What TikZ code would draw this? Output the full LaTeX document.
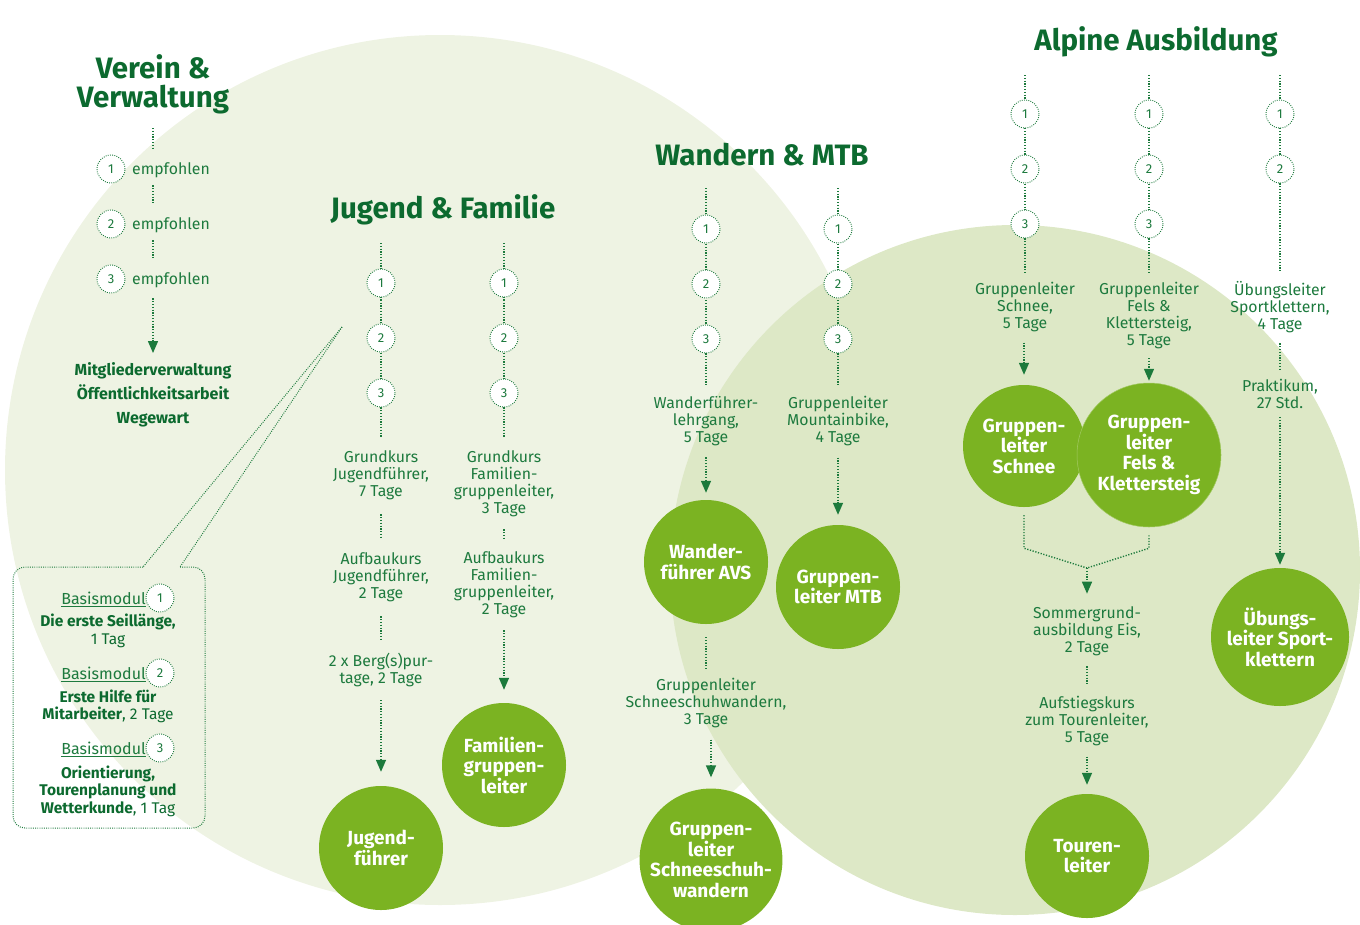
\documentclass[tikz,border=0pt]{standalone}
\usepackage{fontspec}
\setmainfont{Fira Sans}
\usetikzlibrary{arrows.meta}
\definecolor{bgA}{HTML}{EEF3E3}
\definecolor{bgB}{HTML}{DDE8C6}
\definecolor{leaf}{HTML}{7BB322}
\definecolor{txt}{HTML}{1D7A3E}
\definecolor{head}{HTML}{0C6A2F}
\definecolor{dots}{HTML}{1C7A3C}
\begin{document}
\begin{tikzpicture}[x=1pt,y=-1pt,
  lbl/.style={text=txt,align=center,inner sep=0pt,yshift=-1.5pt,font=\fontsize{15.8}{17}\selectfont},
  blbl/.style={text=head,align=center,inner sep=0pt,yshift=-1.5pt,font=\fontsize{16}{24}\selectfont\bfseries},
  bx/.style={text=head,align=center,inner sep=0pt,yshift=-1.5pt,font=\fontsize{15.5}{17.5}\selectfont},
  ttl/.style={text=head,align=center,inner sep=0pt,yshift=-2pt,font=\fontsize{29.5}{29}\selectfont\bfseries},
  num/.style={circle,draw=dots,fill=white,line width=0.9pt,dash pattern=on 0.9pt off 1.3pt,minimum size=28pt,inner sep=0pt,text=txt,font=\fontsize{13}{13}\selectfont},
  goal/.style={circle,fill=leaf,text=white,align=center,inner sep=0pt,font=\fontsize{19}{20.5}\selectfont\bfseries},
  dl/.style={draw=dots,line width=1.4pt,dash pattern=on 1.2pt off 1.6pt},
  thinl/.style={draw=dots,line width=1pt,dash pattern=on 0.9pt off 1.3pt},
  arr/.style={dl,-{Triangle[width=10pt,length=12pt]}},
  tt/.style={dl,shorten <=12pt,shorten >=12pt},
  ct/.style={dl,shorten >=12pt},
]
\useasboundingbox (0,0) rectangle (1360,924);
% backgrounds
\fill[bgA] (440,470) circle[radius=435pt];
\fill[bgB] (1015,570) circle[radius=345pt];

% ---------------- Verein & Verwaltung
\node[ttl] (vt) at (153,82.5) {Verein \&\\Verwaltung};
\coordinate (v0) at (153,128);
\node[num] (vn1) at (111,169) {1};
\node[num] (vn2) at (111,224) {2};
\node[num] (vn3) at (111,279) {3};
\node[lbl,anchor=west] (ve1) at (132,169) {empfohlen};
\node[lbl,anchor=west] (ve2) at (132,224) {empfohlen};
\node[lbl,anchor=west] (ve3) at (132,279) {empfohlen};
\node[blbl] (vm) at (153,393) {Mitgliederverwaltung\\Öffentlichkeitsarbeit\\Wegewart};
\draw[dl,shorten >=5pt] (v0) -- (v0 |- vn1.north);
\draw[dl,shorten <=2pt,shorten >=5pt] (v0 |- vn1.south) -- (v0 |- vn2.north);
\draw[dl,shorten <=2pt,shorten >=5pt] (v0 |- vn2.south) -- (v0 |- vn3.north);
\draw[arr,shorten <=5pt,shorten >=9pt] (v0 |- vn3.south) -- (vm.north);

% ---------------- Jugend & Familie
\node[ttl] (jt) at (443,208) {Jugend \& Familie};
\coordinate (j0) at (381,243);
\coordinate (f0) at (504,243);
\draw[dl] (j0) -- (381,300);
\draw[dl] (f0) -- (504,300);
\foreach \c/\x in {j/381,f/504}{
  \draw[dl] (\x,283) -- (\x,393);
}
\node[num] (jn1) at (381,283) {1};
\node[num] (jn2) at (381,338) {2};
\node[num] (jn3) at (381,393) {3};
\node[num] (fn1) at (504,283) {1};
\node[num] (fn2) at (504,338) {2};
\node[num] (fn3) at (504,393) {3};
\node[lbl] (jg) at (381,474) {Grundkurs\\Jugendführer,\\7 Tage};
\node[lbl] (ja) at (381,576) {Aufbaukurs\\Jugendführer,\\2 Tage};
\node[lbl] (jb) at (381,668.5) {2 x Berg(s)pur-\\tage, 2 Tage};
\node[goal,minimum size=124pt] (jf) at (381,848) {Jugend-\\führer};
\node[lbl] (fg) at (504,482.5) {Grundkurs\\Familien-\\gruppenleiter,\\3 Tage};
\node[lbl] (fa) at (504,583.5) {Aufbaukurs\\Familien-\\gruppenleiter,\\2 Tage};
\node[goal,minimum size=124pt] (ff) at (504,765) {Familien-\\gruppen-\\leiter};
\draw[ct,shorten >=14pt] (jn3) -- (jg);
\draw[tt,shorten <=14pt,shorten >=14pt] (jg) -- (ja);
\draw[tt,shorten <=14pt,shorten >=14pt] (ja) -- (jb);
\draw[arr,shorten <=13pt,shorten >=14pt] (jb) -- (jf);
\draw[ct,shorten >=14pt] (fn3) -- (fg);
\draw[tt] (fg) -- (fa);
\draw[arr,shorten <=12pt,shorten >=13pt] (fa) -- (ff);

% callout
\coordinate (cp) at (342,327);
\coordinate (cl) at (143,567);
\coordinate (cr) at (180,567);
\draw[thinl] (cp) -- (cl);
\draw[thinl] (cp) -- (cr);
\draw[thinl,rounded corners=12pt] (cl) -- (13,567) -- (13,828) -- (205,828) -- (205,567) -- (cr);
\node[num] (bn1) at (160,598) {1};
\node[num] (bn2) at (160,673) {2};
\node[num] (bn3) at (160,748) {3};
\node[lbl,anchor=east,font=\fontsize{16}{17}\selectfont] (bl1) at (146,598) {\underline{Basismodul}};
\node[lbl,anchor=east,font=\fontsize{16}{17}\selectfont] (bl2) at (146,673) {\underline{Basismodul}};
\node[lbl,anchor=east,font=\fontsize{16}{17}\selectfont] (bl3) at (146,748) {\underline{Basismodul}};
\node[bx] (bt1) at (108,629.5) {\textbf{Die erste Seillänge,}\\1 Tag};
\node[bx] (bt2) at (108,705) {\textbf{Erste Hilfe für}\\\textbf{Mitarbeiter}, 2 Tage};
\node[bx] (bt3) at (108,789.5) {\textbf{Orientierung,}\\\textbf{Tourenplanung und}\\\textbf{Wetterkunde}, 1 Tag};

% ---------------- Wandern & MTB
\node[ttl] (wt) at (762,153) {Wandern \& MTB};
\coordinate (w0) at (706,188);
\coordinate (m0) at (838,188);
\draw[dl] (w0) -- (706,339);
\draw[dl] (m0) -- (838,339);
\node[num] (wn1) at (706,229) {1};
\node[num] (wn2) at (706,284) {2};
\node[num] (wn3) at (706,339) {3};
\node[num] (mn1) at (838,229) {1};
\node[num] (mn2) at (838,284) {2};
\node[num] (mn3) at (838,339) {3};
\node[lbl] (wl) at (706,420) {Wanderführer-\\lehrgang,\\5 Tage};
\node[lbl] (ml) at (838,420) {Gruppenleiter\\Mountainbike,\\4 Tage};
\node[goal,minimum size=124pt] (wf) at (706,562) {Wander-\\führer AVS};
\node[goal,minimum size=124pt] (mf) at (838,587) {Gruppen-\\leiter MTB};
\node[lbl] (ws) at (706,702) {Gruppenleiter\\Schneeschuhwandern,\\3 Tage};
\node[goal,minimum size=138pt] (wsf) at (711,860) {Gruppen-\\leiter\\Schneeschuh-\\wandern};
\draw[ct,shorten >=11pt] (wn3) -- (wl);
\draw[ct,shorten >=11pt] (mn3) -- (ml);
\draw[arr,shorten <=11pt,shorten >=7pt] (wl) -- (wf);
\draw[arr,shorten <=11pt,shorten >=10pt] (ml) -- (mf);
\draw[dl,shorten <=13pt,shorten >=9pt] (wf) -- (ws);
\draw[arr,shorten <=11pt,shorten >=11pt] (wsf |- ws.south) -- (wsf.north);

% ---------------- Alpine Ausbildung
\node[ttl] (at) at (1156,40) {Alpine Ausbildung};
\coordinate (a0) at (1025,75);
\coordinate (b0) at (1149,75);
\coordinate (c0) at (1280,75);
\draw[dl] (a0) -- (1025,224);
\draw[dl] (b0) -- (1149,224);
\draw[dl] (c0) -- (1280,169);
\node[num] (an1) at (1025,114) {1};
\node[num] (an2) at (1025,169) {2};
\node[num] (an3) at (1025,224) {3};
\node[num] (bn1a) at (1149,114) {1};
\node[num] (bn2a) at (1149,169) {2};
\node[num] (bn3a) at (1149,224) {3};
\node[num] (cn1) at (1280,114) {1};
\node[num] (cn2) at (1280,169) {2};
\node[lbl] (al) at (1025,306) {Gruppenleiter\\Schnee,\\5 Tage};
\node[lbl] (bl) at (1149,314) {Gruppenleiter\\Fels \&\\Klettersteig,\\5 Tage};
\node[lbl] (cl1) at (1280,306) {Übungsleiter\\Sportklettern,\\4 Tage};
\node[lbl] (cl2) at (1280,392.5) {Praktikum,\\27 Std.};
\node[goal,minimum size=122pt] (af) at (1024,446) {Gruppen-\\leiter\\Schnee};
\node[goal,minimum size=144pt,draw=leaf!70!white,line width=0.5pt] (bf) at (1149,455) {Gruppen-\\leiter\\Fels \&\\Klettersteig};
\node[goal,minimum size=138pt] (cf) at (1280,637) {Übungs-\\leiter Sport-\\klettern};
\coordinate (mg) at (1087,568);
\node[lbl] (sg) at (1087,630) {Sommergrund-\\ausbildung Eis,\\2 Tage};
\node[lbl] (ak) at (1087,720) {Aufstiegskurs\\zum Tourenleiter,\\5 Tage};
\node[goal,minimum size=124pt] (tf) at (1087,856) {Touren-\\leiter};
\draw[ct,shorten >=9pt] (an3) -- (al);
\draw[ct,shorten >=9pt] (bn3a) -- (bl);
\draw[ct,shorten >=9pt] (cn2) -- (cl1);
\draw[arr,shorten <=10pt,shorten >=10pt] (al.south -| af) -- (af.north);
\draw[arr,shorten <=9pt,shorten >=2pt] (bl) -- (bf);
\draw[tt,shorten <=10pt,shorten >=10pt] (cl1) -- (cl2);
\draw[arr,shorten <=8pt,shorten >=3pt] (cl2) -- (cf);
\draw[dl] ([yshift=-8pt]af.south) -- ++(0,33) -- (mg);
\draw[dl] ([yshift=-8pt]bf.south) -- ++(0,13) -- (mg);
\draw[arr,shorten >=13pt] (mg) -- (sg);
\draw[tt,shorten <=10pt,shorten >=12pt] (sg) -- (ak);
\draw[arr,shorten <=10pt,shorten >=9pt] (ak) -- (tf);
\end{tikzpicture}
\end{document}
